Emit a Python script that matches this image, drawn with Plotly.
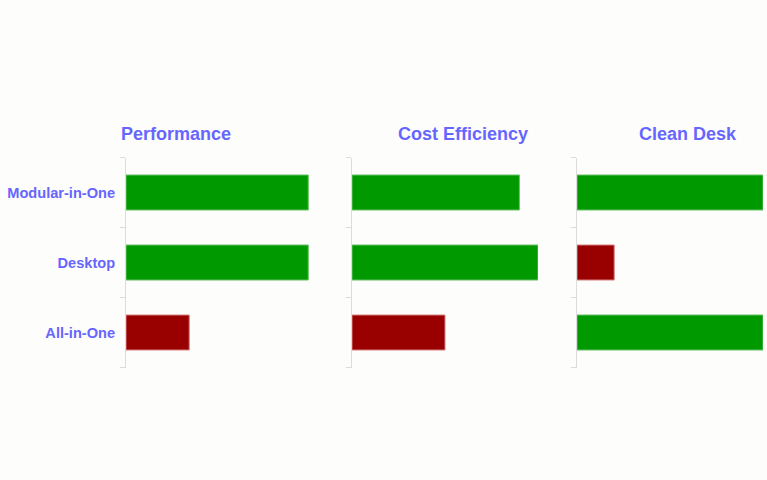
import plotly.graph_objects as go

categories = ["Modular-in-One", "Desktop", "All-in-One"]
panel_titles = ["Performance", "Cost Efficiency", "Clean Desk"]
performance = [98, 98, 34]
cost_efficiency = [90, 100, 50]
clean_desk = [100, 20, 100]
good = [True, True, False]
good_cost = [True, True, False]
good_clean = [True, False, True]

GREEN = "#009900"
RED = "#990000"
LBL = "#6666ff"
W, H = 767, 480

series = [(performance, good), (cost_efficiency, good_cost), (clean_desk, good_clean)]
xdoms = [(126, 312), (352, 538), (577, 763)]
title_cx = [176, 463, 688]

fig = go.Figure()
for i, (vals, flags) in enumerate(series):
    n = "" if i == 0 else str(i + 1)
    fig.add_trace(go.Bar(
        y=categories, x=vals, orientation="h",
        marker=dict(color=[GREEN if f else RED for f in flags],
                    line=dict(color=["#66c266" if f else "#d98080" for f in flags], width=1)),
        xaxis="x" + n, yaxis="y" + n, showlegend=False, hoverinfo="skip",
    ))
    fig.layout["xaxis" + n] = dict(domain=[xdoms[i][0] / W, xdoms[i][1] / W], range=[0, 100],
                                   visible=False, anchor="y" + n)
    fig.layout["yaxis" + n] = dict(domain=[1 - 367.5 / H, 1 - 157.5 / H], anchor="x" + n,
                                   categoryorder="array", categoryarray=categories[::-1],
                                   showline=True, linecolor="#dcdcdc", linewidth=1,
                                   ticks="outside", tickson="boundaries", ticklen=5,
                                   tickcolor="#dcdcdc", showgrid=False, zeroline=False,
                                   showticklabels=(i == 0), ticklabelstandoff=7,
                                   tickfont=dict(family="Liberation Sans, Arial", size=14.6, color=LBL))
    fig.add_annotation(x=title_cx[i] / W, y=1 - 134 / H, xref="paper", yref="paper",
                       text="<b>" + panel_titles[i] + "</b>", showarrow=False,
                       xanchor="center", yanchor="middle",
                       font=dict(family="Liberation Sans, Arial", size=18, color=LBL))

fig.update_layout(width=W, height=H, margin=dict(l=0, r=0, t=0, b=0),
                  paper_bgcolor="#fdfdfb", plot_bgcolor="#fdfdfb",
                  bargap=0.5, font=dict(family="Liberation Sans, Arial"))
fig.update_yaxes(tickfont=dict(weight="bold"))
fig.write_html("out.html")
